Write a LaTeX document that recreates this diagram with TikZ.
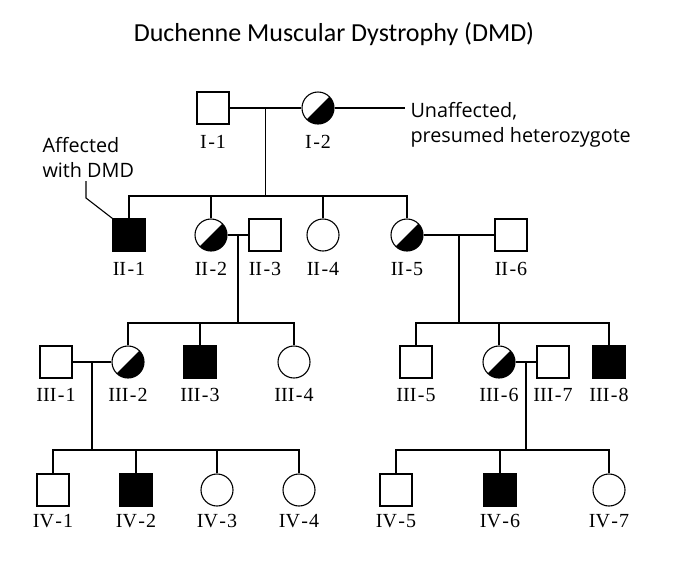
\documentclass[tikz,border=0pt]{standalone}
\usepackage{fontspec}
\setmainfont{Liberation Serif}
\newfontfamily\titlefont{Carlito}
\newfontfamily\notefont{Open Sans}
\usepackage{tikz}
\usetikzlibrary{
  calc,
  positioning
}
\newcommand{\gen}[2]{#1\kern1.5pt-\kern1pt#2}

\begin{document}
\begin{tikzpicture}[x=1pt,y=-1pt,line width=1.1pt,
    male/.style={draw,rectangle,minimum size=32pt,inner sep=0},
    female/.style={draw,circle,minimum size=32pt,inner sep=0},
    sick/.style={fill=black},
    carrier/.style={female,path picture={\fill (path picture bounding box.south west) -- (path picture bounding box.north east) -- (path picture bounding box.south east) -- cycle;}},
    tag/.style={inner sep=0,font=\fontsize{20}{20}\selectfont},
    note/.style={inner sep=0,align=left,font=\notefont\fontsize{19.8}{25}\selectfont}]
  \useasboundingbox (0,0) rectangle (690,560);
  \node[anchor=base,font=\titlefont\fontsize{26}{26}\selectfont] (title) at (334,41) {Duchenne Muscular Dystrophy (DMD)};
  \node[male] (I-1) at (213,108) {};
  \node[carrier] (I-2) at (318,108) {};
  \node[male,sick] (II-1) at (129,235) {};
  \node[carrier] (II-2) at (211,235) {};
  \node[male] (II-3) at (265,235) {};
  \node[female] (II-4) at (323,235) {};
  \node[carrier] (II-5) at (407,235) {};
  \node[male] (II-6) at (511,235) {};
  \node[male] (III-1) at (56,362) {};
  \node[carrier] (III-2) at (128,362) {};
  \node[male,sick] (III-3) at (200,362) {};
  \node[female] (III-4) at (294,362) {};
  \node[male] (III-5) at (416,362) {};
  \node[carrier] (III-6) at (499,362) {};
  \node[male] (III-7) at (553,362) {};
  \node[male,sick] (III-8) at (609,362) {};
  \node[male] (IV-1) at (53,490) {};
  \node[male,sick] (IV-2) at (136,490) {};
  \node[female] (IV-3) at (217,490) {};
  \node[female] (IV-4) at (299,490) {};
  \node[male] (IV-5) at (396,490) {};
  \node[male,sick] (IV-6) at (500,490) {};
  \node[female] (IV-7) at (609,490) {};
  \foreach \r/\d/\m in {I/10/2,II/10/6,III/9/8,IV/7/7}
    \foreach \k in {1,...,\m}
      \node[tag,below=\d pt of \r-\k] (lab\r-\k) {\gen{\r}{\k}};
  \foreach \a/\b/\m in {I-1/I-2/m1,II-2/II-3/m2,II-5/II-6/m3,III-1/III-2/m4,III-6/III-7/m5} {
    \draw (\a) -- (\b);
    \coordinate (\m) at ($(\a)!.5!(\b)$);
    \coordinate (s\m) at ($(\m)+(0,88)$);
    \draw (\m) -- (s\m);
  }
  \draw (II-1) |- (sm1) -| (II-5);
  \foreach \k in {II-2,II-4} \draw (\k) -- (\k |- sm1);
  \draw (III-2) |- (sm2) -| (III-4);
  \draw (III-3) -- (III-3 |- sm2);
  \draw (III-5) |- (sm3) -| (III-8);
  \draw (III-6) -- (III-6 |- sm3);
  \draw (IV-1) |- (sm4) -| (IV-4);
  \foreach \k in {IV-2,IV-3} \draw (\k) -- (\k |- sm4);
  \draw (IV-5) |- (sm5) -| (IV-7);
  \draw (IV-6) -- (IV-6 |- sm5);
  \coordinate (tipR) at (405,108);
  \draw (I-2) -- (tipR);
  \node[note,anchor=north west] (noteR) at (410,102) {Unaffected,\\presumed heterozygote};
  \node[note,anchor=north west] (noteL) at (42,137) {Affected\\with DMD};
  \coordinate (tipL) at (86,181);
  \draw (tipL) -- ++(0,17) -- (II-1.north west);
\end{tikzpicture}
\end{document}
